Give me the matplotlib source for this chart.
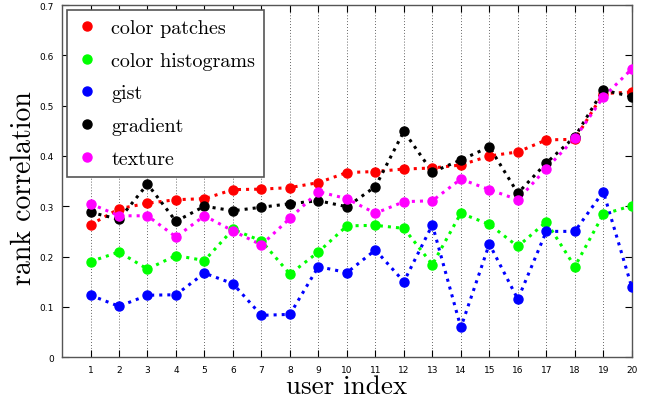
import numpy as np
import matplotlib
matplotlib.use('Agg')
import matplotlib.pyplot as plt

# rank correlation per user for each feature type
users = list(range(1, 21))

color_patches = [0.263, 0.295, 0.306, 0.313, 0.315, 0.333, 0.334, 0.337, 0.347, 0.367,
                 0.369, 0.374, 0.376, 0.382, 0.400, 0.408, 0.432, 0.433, 0.524, 0.527]
color_histograms = [0.190, 0.209, 0.175, 0.202, 0.192, 0.254, 0.231, 0.165, 0.209, 0.261,
                    0.262, 0.256, 0.184, 0.286, 0.264, 0.220, 0.269, 0.180, 0.284, 0.301]
gist = [0.123, 0.101, 0.123, 0.124, 0.167, 0.146, 0.083, 0.085, 0.180, 0.168,
        0.213, 0.150, 0.263, 0.059, 0.225, 0.115, 0.250, 0.250, 0.329, 0.139]
gradient = [0.288, 0.274, 0.344, 0.270, 0.300, 0.291, 0.298, 0.305, 0.311, 0.299,
            0.339, 0.449, 0.368, 0.392, 0.418, 0.326, 0.386, 0.438, 0.531, 0.518]
texture = [0.305, 0.281, 0.281, 0.239, 0.281, 0.251, 0.223, 0.276, 0.329, 0.315,
           0.286, 0.309, 0.311, 0.354, 0.333, 0.313, 0.375, 0.435, 0.517, 0.573]

series = [('color patches', color_patches, '#ff0000'),
          ('color histograms', color_histograms, '#00ff00'),
          ('gist', gist, '#0000ff'),
          ('gradient', gradient, '#000000'),
          ('texture', texture, '#ff00ff')]

serif = 'cmr10'

fig = plt.figure(figsize=(6.46, 4.06), dpi=100)
ax = fig.add_axes([0.096, 0.118, 0.882, 0.867])

# vertical dotted grid at every user
for u in users:
    ax.axvline(u, color='#333333', linestyle=(0, (1, 2.5)), linewidth=0.6, zorder=0)

handles = []
for name, vals, col in series:
    ax.plot(users, vals, linestyle=':', linewidth=2.2, color=col, zorder=2)
    h, = ax.plot(users, vals, linestyle='none', marker='o', markersize=6.5,
                 color=col, markeredgecolor=col, label=name, zorder=3)
    handles.append(h)

ax.set_xlim(0, 20)
ax.set_ylim(0, 0.7)
ax.set_xticks(users)
ax.set_xticklabels([str(u) for u in users], fontsize=6.5)
ax.set_yticks(np.arange(0, 0.71, 0.1))
ax.set_yticklabels(['0', '0.1', '0.2', '0.3', '0.4', '0.5', '0.6', '0.7'], fontsize=6.5)
ax.tick_params(direction='in', length=5, width=0.8, top=True, right=True, pad=6)

for sp in ax.spines.values():
    sp.set_color('#555555')
    sp.set_linewidth(1.0)

ax.set_xlabel('user index', fontsize=19.5, family=serif, labelpad=0)
ax.set_ylabel('rank correlation', fontsize=20, family=serif)
ax.yaxis.set_label_coords(-0.044, 0.483)

leg = ax.legend(handles=handles, loc='upper left', prop={'family': serif, 'size': 14.5},
                fancybox=False, framealpha=1, edgecolor='#555555', borderpad=0.45,
                labelspacing=0.72, handlelength=1.1, handletextpad=0.65,
                borderaxespad=0.25)
leg.get_frame().set_linewidth(1.2)

fig.savefig('out.png', dpi=100)
